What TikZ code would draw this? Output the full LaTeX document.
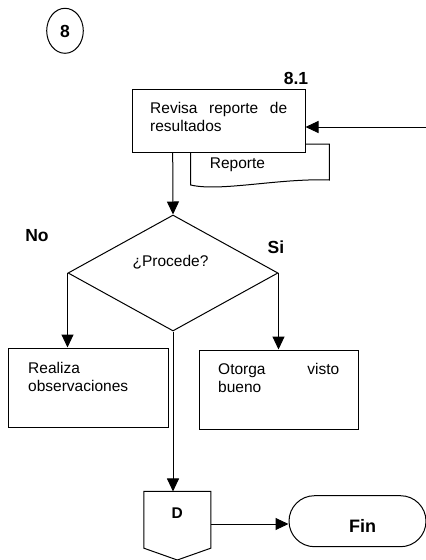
\documentclass[tikz,border=0pt]{standalone}
\usepackage{fontspec}
\setmainfont{Liberation Sans}
\usetikzlibrary{shapes.geometric,shapes.misc,arrows.meta}

\tikzset{
  caja/.style={draw, line width=1pt, fill=white, inner sep=0pt},
  texto/.style={inner sep=0pt, anchor=north west, align=justify,
    font=\fontsize{15.5}{18}\selectfont, execute at begin node={\hyphenpenalty=10000}},
  letra/.style={inner sep=0pt, font=\fontsize{15.5}{18}\selectfont},
  negrita/.style={inner sep=0pt, font=\fontsize{17.5}{18}\selectfont\bfseries},
  flecha/.style={line width=1pt, -{Triangle[length=13pt,width=12pt]}},
}

\begin{document}
\begin{tikzpicture}[x=1pt, y=-1pt]
  \useasboundingbox (0,0) rectangle (426,560);

  % numero de etapa
  \node[draw, line width=1pt, ellipse, minimum width=36.6, minimum height=45] (etapa) at (65,30.8) {};
  \node[negrita, anchor=base] (etapaT) at (65,37.3) {8};

  % documento detras de la actividad
  \draw[line width=1pt, fill=white] (190.7,144) -- (329.3,144) -- (329.3,180)
    .. controls (280,178) and (220,192) .. (190.7,185) -- cycle;
  \node[letra, anchor=base] (reporte) at (237.5,168.3) {Reporte};

  % actividad 8.1
  \node[caja, minimum width=173, minimum height=62.5] (revisa) at (218.5,121) {};
  \node[texto, text width=137] (revisaT) at (150,102) {Revisa reporte de resultados};
  \node[negrita, anchor=base] (num) at (296,84.3) {8.1};
  \coordinate (entrada) at (426,127);
  \draw[flecha] (entrada) -- (entrada -| revisa.east);

  % decision
  \node[draw, line width=1pt, diamond, aspect=1.81, inner sep=0pt,
        minimum width=210, minimum height=116] (procede) at (173,273) {};
  \node[letra, anchor=base] (procedeT) at (170.5,266.5) {¿Procede?};
  \node[negrita, anchor=base] (no) at (37,241.7) {No};
  \node[negrita, anchor=base] (si) at (276,253) {Si};
  \draw[flecha] (172.7,152) -- (procede.north);

  % resultados de la decision
  \node[caja, minimum width=160, minimum height=79] (observa) at (88,387.5) {};
  \node[texto, text width=130] (observaT) at (28,362) {Realiza observaciones};
  \node[caja, minimum width=159, minimum height=79] (otorga) at (278.5,389.5) {};
  \node[texto, text width=121] (otorgaT) at (218,363) {Otorga visto bueno};
  \draw[flecha] (procede.west) -- (procede.west |- observa.north);
  \draw[flecha] (procede.east) -- (procede.east |- otorga.north);

  % conector y fin
  \node[minimum width=66.7, minimum height=56.3, inner sep=0pt] (conD) at (177.3,519.8) {};
  \draw[line width=1pt] (conD.north west) -- (conD.north east) -- (conD.south east)
    -- (177.3,560) -- (conD.south west) -- cycle;
  \node[negrita, anchor=base, font=\fontsize{15.5}{18}\selectfont\bfseries] (conDT) at (177.3,518.3) {D};
  \draw[flecha] (procede.south) -- (procede.south |- conD.north);
  \node[draw, line width=1pt, rounded rectangle, minimum width=137, minimum height=51,
        inner sep=0pt] (fin) at (357.5,521.2) {};
  \node[negrita, anchor=base, font=\fontsize{18}{18}\selectfont\bfseries] (finT) at (362.5,532.7) {Fin};
  \draw[flecha] (conD.east |- 0,524) -- (fin.west |- 0,524);
\end{tikzpicture}
\end{document}
